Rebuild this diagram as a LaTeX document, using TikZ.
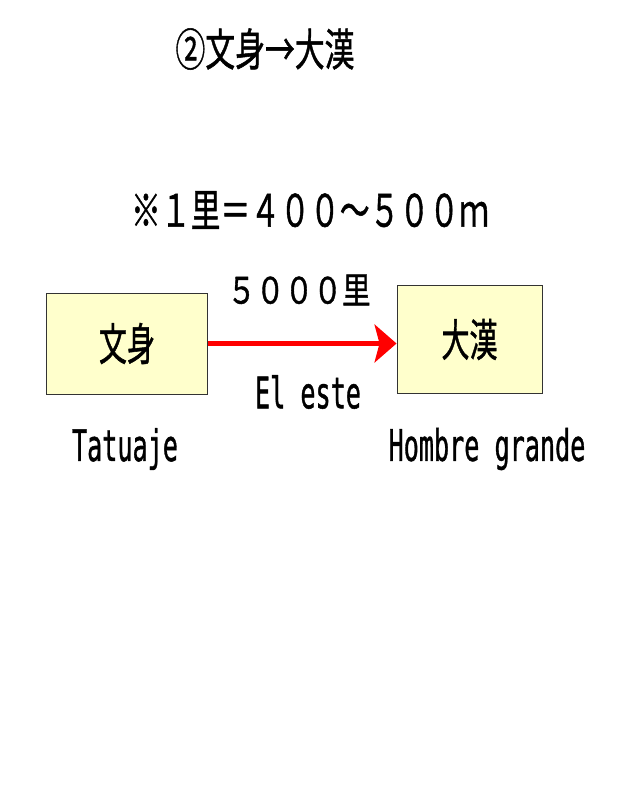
\documentclass[tikz,border=0pt]{standalone}
\usepackage{fontspec}
\usetikzlibrary{arrows.meta}
\newfontfamily\jpfont[FakeBold=1.2,AutoFakeBold=1.2]{Noto Sans CJK JP}
\newfontfamily\narrowmono[FakeBold=1.2]{DejaVu Sans Mono}
\definecolor{boxfill}{HTML}{FFFFCC}
\definecolor{arrowred}{HTML}{FF0000}
\tikzset{
  titletext/.style={font=\jpfont\fontsize{38}{40}\selectfont, xscale=0.67, inner sep=0pt},
  notetext/.style={font=\jpfont\fontsize{38}{40}\selectfont, xscale=0.67, inner sep=0pt},
  disttext/.style={font=\jpfont\fontsize{31}{33}\selectfont, xscale=0.79, inner sep=0pt},
  captext/.style={font=\narrowmono\fontsize{37}{39}\selectfont, xscale=0.58, inner sep=0pt},
  wordbox/.style={draw=black!80, line width=0.8pt, fill=boxfill, inner sep=0pt,
                  font=\jpfont\fontsize{38}{40}\selectfont},
}

\begin{document}
\begin{tikzpicture}[x=0.03cm, y=-0.03cm]
    \useasboundingbox[fill=white] (0,0) rectangle (640,787);
    \node[titletext] (title) at (265, 49) {②文身→大漢};
    \node[notetext] (note) at (310, 210) {※１里＝４００～５００ｍ};
    \node[wordbox, minimum width=161*0.03cm, minimum height=101*0.03cm] (tattoo) at (127, 343.5) {\scalebox{0.63}[1]{文身}};
    \node[wordbox, minimum width=145*0.03cm, minimum height=108*0.03cm] (bigman) at (469.5, 339.5) {\scalebox{0.63}[1]{大漢}};
    \draw[arrowred, line width=4.3pt, -{Stealth[length=22*0.03cm, width=38*0.03cm, inset=5*0.03cm]}]
      (tattoo.east) -- (tattoo.east -| bigman.west);
    \node[disttext] (dist) at (299, 290) {５０００里};
    \node[captext] (dir) at (308, 392) {El este};
    \node[captext] (captattoo) at (125, 449) {Tatuaje};
    \node[captext] (capbigman) at (487, 449) {Hombre grande};
  \end{tikzpicture}
\end{document}
